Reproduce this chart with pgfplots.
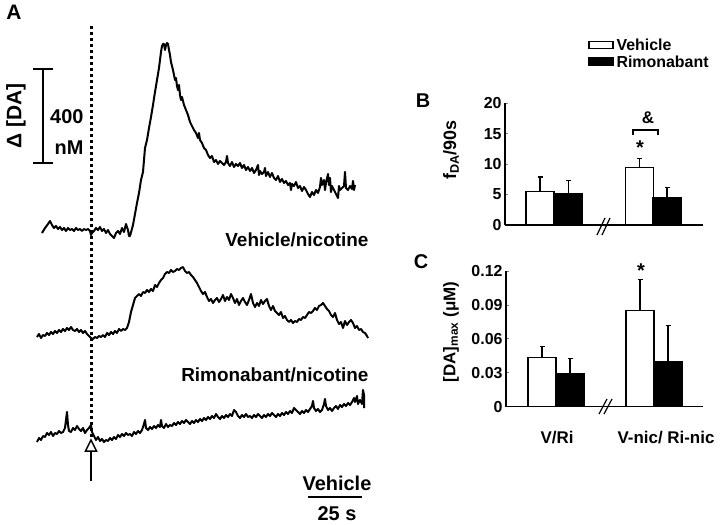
\documentclass[border=0pt]{standalone}
\usepackage{pgfplots}
\pgfplotsset{compat=1.18}
\usepackage{fontspec}
\setmainfont{Liberation Sans}
\newcommand\fs[1]{\fontsize{#1}{#1}\selectfont\bfseries}

% traces of panel A, in picture pixels (y grows downward)
\pgfplotstableread{
x y
42 233
45 228
48 224
50 221
52 225
54 228
56 226
58 229
60 227
62 230
64 228
66 231
68 228
70 230
72 229
74 231
76 228
78 230
80 229
82 231
84 229
86 230
88 229
90 231
91 235
92 233
94 231
96 228
98 230
100 227
102 231
104 229
106 233
108 230
110 234
112 236
114 238
116 233
118 231
120 234
122 228
124 232
126 224
128 230
129 236
130 236
133 225
135 214
137 203
139 193
141 180
143 172
144 160
145 148
147 140
149 128
151 117
153 105
155 92
157 80
159 68
160 60
161 52
162 46
163 44
164 44
165 50
166 45
167 43
168 44
169 50
170 55
171 62
172 66
173 70
174 75
175 80
176 78
177 86
178 90
179 85
180 95
181 100
182 97
184 105
186 110
188 115
190 122
192 126
194 130
196 133
198 138
199 133
200 140
202 143
204 148
206 150
208 155
210 158
212 156
214 162
216 160
218 164
220 161
222 163
224 165
226 162
227 156
228 163
230 166
232 162
234 167
236 164
238 166
240 163
242 168
244 165
246 170
248 167
250 171
252 168
254 173
256 170
258 165
259 175
260 171
262 174
264 172
265 168
266 176
268 172
270 177
272 173
274 178
276 180
278 176
280 182
282 179
284 183
286 181
288 185
290 183
291 190
292 184
294 186
296 182
298 188
300 186
302 191
304 187
306 190
308 194
310 197
312 192
314 195
316 190
318 193
320 187
321 178
322 185
324 180
325 190
326 183
328 174
329 185
330 178
331 192
332 186
334 190
336 194
338 198
339 186
340 190
342 188
344 186
345 172
346 188
348 190
350 186
352 189
353 181
354 190
355 185
}\traceveh

\pgfplotstableread{
x y
37 337
39 334
41 338
43 335
45 336
47 333
49 335
51 332
53 334
55 331
57 333
59 330
61 332
63 329
65 331
67 328
69 330
71 327
73 330
75 331
77 329
79 332
81 330
83 333
85 331
87 334
89 336
91 338
93 339
95 337
97 338
99 336
101 337
103 335
105 337
107 333
109 335
111 332
113 334
115 331
117 333
119 329
121 331
123 329
125 330
127 328
129 322
131 312
133 305
135 298
137 296
139 294
141 296
143 292
145 293
147 290
149 292
151 289
153 291
155 285
157 287
159 283
161 280
163 278
165 274
167 272
169 273
171 270
173 272
175 271
177 269
179 270
181 268
183 267
185 271
187 273
189 272
191 275
193 277
195 280
197 283
199 287
201 291
203 294
205 292
207 297
209 301
211 299
213 303
215 300
217 298
219 302
221 299
223 295
225 301
227 297
229 300
231 294
233 298
235 303
237 299
239 305
241 301
243 298
245 302
247 305
249 300
251 294
253 303
255 307
257 303
259 306
261 300
263 304
265 301
267 299
269 306
271 310
273 306
275 311
277 313
279 315
281 312
283 318
285 316
287 320
289 322
291 320
293 323
295 321
297 322
299 319
301 320
303 317
305 318
307 315
309 312
311 313
313 311
315 308
317 310
319 306
321 305
323 303
325 306
327 309
329 311
331 315
333 317
335 313
337 320
339 324
341 322
343 328
345 321
347 325
349 322
351 320
353 323
355 328
357 326
359 330
361 329
363 332
365 333
367 336
368 338
}\tracerim

\pgfplotstableread{
x y
37 442
39 438
41 440
43 436
45 437
47 433
49 435
51 432
53 436
55 433
57 434
59 431
61 433
63 432
65 428
66 420
67 412
68 425
69 431
71 432
73 428
75 430
77 426
79 429
81 431
83 428
85 433
87 430
89 428
91 425
92 432
94 436
96 440
98 437
100 441
102 439
104 442
106 440
108 441
110 438
112 440
114 437
116 439
118 435
120 437
122 434
124 436
126 433
128 435
130 434
132 436
134 432
136 434
138 431
140 433
142 430
144 424
145 420
146 428
148 430
150 427
152 429
154 426
156 428
158 425
160 427
161 420
162 426
164 428
166 424
168 427
170 425
172 426
174 423
176 425
178 422
180 424
182 421
184 423
186 420
188 422
190 424
192 421
194 423
196 420
198 422
200 419
202 421
204 418
206 420
208 417
210 419
212 416
214 418
216 414
218 417
220 419
222 416
224 418
226 415
228 417
230 414
232 416
234 410
236 412
238 416
240 418
242 415
244 417
246 414
248 417
250 416
252 418
254 415
256 417
258 414
260 416
262 418
264 415
266 417
268 414
270 416
272 413
274 415
276 417
278 414
280 416
282 413
284 415
286 412
288 414
290 411
292 413
294 408
296 410
298 412
300 414
302 411
304 413
306 410
308 412
310 409
312 406
313 401
314 408
316 411
318 409
320 412
322 410
324 404
325 399
326 406
328 410
330 408
332 411
334 408
336 406
338 409
340 405
342 407
344 404
346 406
348 403
350 405
352 402
354 398
355 402
357 396
358 404
360 400
362 404
363 390
364 395
364 408
}\tracevehonly

\begin{document}
\begin{tikzpicture}
% panel A and all free text, in pixel units of the 720x525 picture
\begin{axis}[
    at={(0,0)}, anchor=south west,
    width=720bp, height=525bp, scale only axis,
    xmin=0, xmax=720, ymin=0, ymax=525,
    y dir=reverse, hide axis, clip=false,
]
\addplot[black, line width=2bp, line join=round, no marks] table[x=x,y=y] {\traceveh};
\addplot[black, line width=2bp, line join=round, no marks] table[x=x,y=y] {\tracerim};
\addplot[black, line width=2bp, line join=round, no marks] table[x=x,y=y] {\tracevehonly};

% stimulus line and arrow
\draw[line width=3bp, dash pattern=on 3bp off 3bp] (91,26) -- (91,437);
\draw[line width=2.5bp] (91,451) -- (91,481);
\draw[line width=1.5bp, fill=white] (91,440) -- (96.5,451) -- (85.5,451) -- cycle;

% scale bars
\draw[line width=2.5bp] (43,69) -- (43,163) (33,69) -- (53,69) (33,163) -- (53,163);
\node[font=\fs{20}, anchor=east] at (87,117) {400};
\node[font=\fs{20}, anchor=east] at (87,148) {nM};
\node[font=\fs{21}, rotate=90] at (16,116) {Δ [DA]};
\node[font=\fs{20}] at (337,483) {Vehicle};
\draw[line width=2.2bp] (308,497) -- (362,497);
\node[font=\fs{20}, anchor=base, inner sep=0pt] at (337,520) {25 s};

\node[font=\fs{21}] at (14,12) {A};
\node[font=\fs{19}, anchor=east] at (372,240) {Vehicle/nicotine};
\node[font=\fs{19}, anchor=east] at (372,375) {Rimonabant/nicotine};

% panels B and C: labels, legend, marks
\node[font=\fs{20}] at (423,101) {B};
\node[font=\fs{20}] at (421,262) {C};
\node[font=\fs{18}, rotate=90] at (451,150) {f\textsubscript{DA}/90s};
\node[font=\fs{17}, rotate=90] at (451,332) {[DA]\textsubscript{max} (μM)};

\draw[line width=1.2bp, fill=white] (589,41.7) rectangle (613,48.3);
\draw[line width=1.2bp, fill=black] (589,58) rectangle (613,65);
\node[font=\fs{16}, anchor=west] at (613,45) {Vehicle};
\node[font=\fs{16}, anchor=west] at (613,62) {Rimonabant};

\node[font=\fs{20}] at (640,148) {*};
\draw[line width=1.8bp] (633,135) -- (633,130) -- (658,130) -- (658,135);
\node[font=\fs{17}] at (648,118) {\&};
\node[font=\fs{20}] at (641,271) {*};

\node[font=\fs{17}] at (557,438) {V/Ri};
\node[font=\fs{17}] at (666,438) {V-nic/ Ri-nic};

% axis breaks
\draw[line width=1.2bp] (597,235) -- (605,218) (602,235) -- (610,218);
\draw[line width=1.2bp] (599,414) -- (607,399) (604,414) -- (612,399);
\end{axis}

% panel B
\begin{axis}[
    at={(505bp,300bp)}, anchor=south west,
    width=198bp, height=121.7bp, scale only axis,
    xmin=0, xmax=198, ymin=0, ymax=20,
    axis lines=left, axis line style={-, line width=1.1bp},
    xtick=\empty, ytick={0,5,10,15,20},
    tick align=inside, major tick length=2.5bp,
    tick style={line width=0.8bp},
    yticklabel style={font=\fs{16}},
    /pgf/number format/assume math mode=true,
    ybar, bar width=28, bar shift=0pt,
    clip=false,
]
\addplot[draw=black, fill=white, line width=1.3bp,
    error bars/.cd, y dir=plus, y explicit,
    error bar style={line width=1.3bp}, error mark options={line width=1.3bp, mark size=2.5bp, rotate=90}]
    coordinates {(35,5.46) +- (0,2.44) (134.5,9.45) +- (0,1.45)};
\addplot[draw=black, fill=black, line width=1.3bp,
    error bars/.cd, y dir=plus, y explicit,
    error bar style={line width=1.3bp}, error mark options={line width=1.3bp, mark size=2.5bp, rotate=90}]
    coordinates {(63.5,5.1) +- (0,2.16) (162,4.5) +- (0,1.7)};
\end{axis}

% panel C
\begin{axis}[
    at={(506bp,118.3bp)}, anchor=south west,
    width=197bp, height=135.7bp, scale only axis,
    xmin=0, xmax=197, ymin=0, ymax=0.12,
    axis lines=left, axis line style={-, line width=1.1bp},
    xtick=\empty, ytick={0,0.03,0.06,0.09,0.12},
    yticklabels={0,0.03,0.06,0.09,0.12},
    tick align=inside, major tick length=2.5bp,
    tick style={line width=0.8bp},
    yticklabel style={font=\fs{16}},
    ybar, bar width=28, bar shift=0pt,
    clip=false,
]
\addplot[draw=black, fill=white, line width=1.3bp,
    error bars/.cd, y dir=plus, y explicit,
    error bar style={line width=1.3bp}, error mark options={line width=1.3bp, mark size=2.5bp, rotate=90}]
    coordinates {(36,0.0433) +- (0,0.0097) (134,0.0852) +- (0,0.0274)};
\addplot[draw=black, fill=black, line width=1.3bp,
    error bars/.cd, y dir=plus, y explicit,
    error bar style={line width=1.3bp}, error mark options={line width=1.3bp, mark size=2.5bp, rotate=90}]
    coordinates {(64,0.0295) +- (0,0.0129) (162,0.0398) +- (0,0.0322)};
\end{axis}

\pgfresetboundingbox
\path[use as bounding box] (0,0) rectangle (720bp,525bp);
\end{tikzpicture}
\end{document}
